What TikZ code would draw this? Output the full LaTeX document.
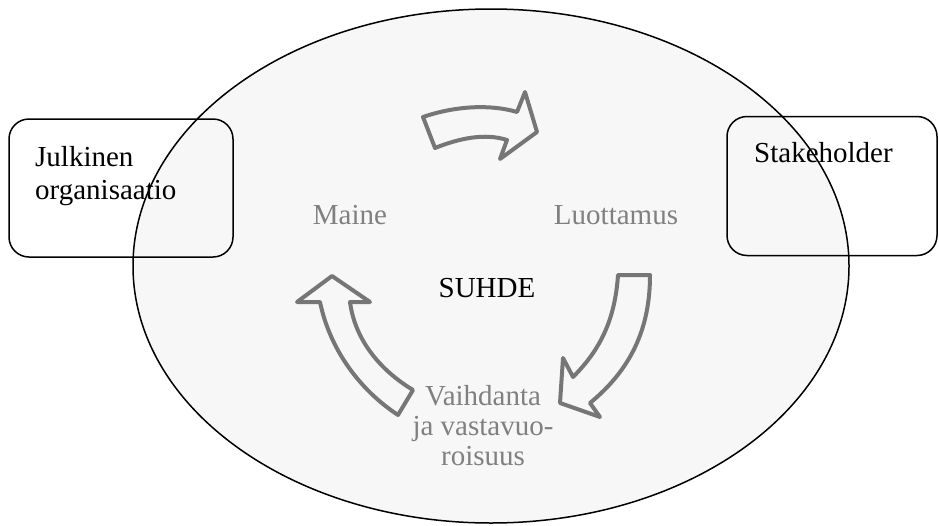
\documentclass[tikz,border=0pt]{standalone}
\usepackage{fontspec}
\setmainfont{Liberation Serif}
\usepackage{tikz}
\usetikzlibrary{positioning}

\definecolor{bgfill}{HTML}{F7F7F7}
\definecolor{arrowgray}{HTML}{767676}
\definecolor{textgray}{HTML}{808080}

\begin{document}
\begin{tikzpicture}[x=1pt, y=-1pt,
    party/.style={shape=rectangle,draw,rounded corners=20pt,line width=1.5pt,inner sep=0},
    word/.style={inner sep=0,font=\fontsize{29}{33}\selectfont},
    cyclearrow/.style={draw=arrowgray,fill=bgfill,line width=4pt,line join=round}]
				\useasboundingbox (0,0) rectangle (939,525);
				\fill[bgfill] (491,266) ellipse [x radius=358pt, y radius=257pt];
				\node[party,minimum width=224pt,minimum height=138pt] (org) at (121,188) {};
				\node[party,minimum width=210pt,minimum height=139pt] (stake) at (832,186) {};
				\draw[line width=1.5pt] (491,266) ellipse [x radius=358pt, y radius=257pt];
				\node[word,anchor=west,align=left] (orgtext) at (35,176) {Julkinen\\organisaatio};
				\node[word,anchor=base west] (staketext) at (754,162) {Stakeholder};
				\draw[cyclearrow] (423,117) .. controls (455,106) and (490,104) .. (517,112) -- (525,92) -- (537,132) -- (500,159) -- (507,140) .. controls (485,133) and (460,138) .. (435,148) -- cycle;
				\draw[cyclearrow] (618,275) -- (650,275) .. controls (650,330) and (630,370) .. (590,403) -- (600,417) -- (560,403) -- (563,358) -- (573,377) .. controls (600,350) and (615,320) .. (618,275) -- cycle;
				\draw[cyclearrow] (332,276) -- (370,302) -- (350,302) .. controls (355,340) and (380,370) .. (413,390) -- (398,415) .. controls (360,390) and (330,350) .. (320,302) -- (297,302) -- cycle;
				\node[word,text=textgray,anchor=base] (maine) at (350,224) {Maine};
				\node[word,text=textgray,anchor=base] (luottamus) at (616,224) {Luottamus};
				\node[word,anchor=base] (suhde) at (487,297) {SUHDE};
				\node[word,text=textgray,align=center,font=\fontsize{29}{30}\selectfont] (vaihdanta) at (483,426) {Vaihdanta\\ja vastavuo-\\roisuus};
			\end{tikzpicture}
\end{document}
